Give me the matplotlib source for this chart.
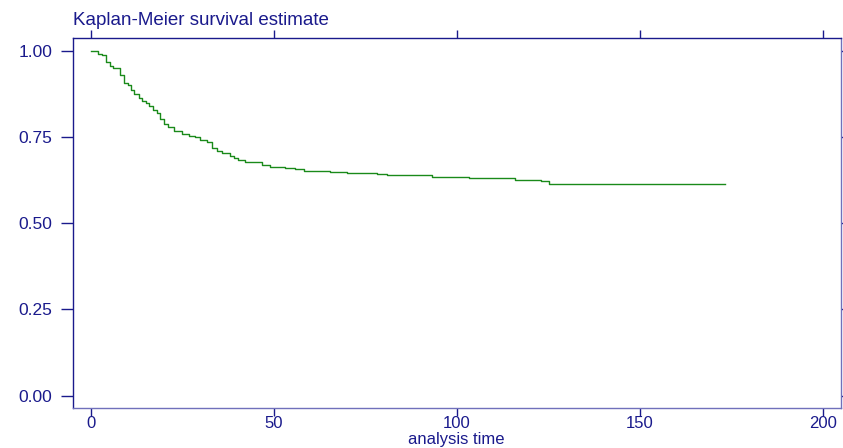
import matplotlib
matplotlib.use("Agg")
import matplotlib.pyplot as plt

# step times and survival values
times = [0, 1.9, 3.1, 4.0, 5.1, 6.0, 8.0, 8.9, 10.1, 11.0, 11.9, 13.1, 14.0,
         15.0, 16.0, 16.9, 18.0, 18.9, 20.0, 21.0, 22.8, 24.9, 26.7, 28.5,
         29.9, 31.7, 33.1, 34.4, 35.8, 38.1, 39.0, 40.1, 42.2, 46.7, 49.0,
         53.1, 55.8, 58.1, 65.4, 70.0, 78.2, 80.9, 93.2, 103.2, 116.0, 123.0,
         125.1, 173.4]
survival = [1.0, 0.990, 0.987, 0.968, 0.956, 0.949, 0.930, 0.905, 0.899,
            0.885, 0.873, 0.863, 0.854, 0.849, 0.839, 0.828, 0.818, 0.801,
            0.786, 0.780, 0.768, 0.758, 0.753, 0.749, 0.742, 0.734, 0.717,
            0.709, 0.703, 0.694, 0.688, 0.684, 0.677, 0.669, 0.664, 0.660,
            0.656, 0.652, 0.649, 0.645, 0.642, 0.639, 0.635, 0.631, 0.626,
            0.621, 0.614, 0.614]

xticks = [0, 50, 100, 150, 200]
yticks = [0.0, 0.25, 0.5, 0.75, 1.0]
ytick_labels = ["0.00", "0.25", "0.50", "0.75", "1.00"]

navy = "#1a1a8c"
light = "#7070bb"
green = "#1a8a1a"

plt.rcParams["font.family"] = ["Liberation Sans", "DejaVu Sans"]

fig = plt.figure(figsize=(8.43, 4.48), dpi=100)
ax = fig.add_axes([0.0862, 0.0893, 0.9114, 0.8252])

ax.step(times, survival, where="post", color=green, lw=1.0)

ax.set_xlim(-5, 205)
ax.set_ylim(-0.0356, 1.0356)

ax.set_xticks(xticks)
ax.set_yticks(yticks)
ax.set_yticklabels(ytick_labels)

ax.tick_params(axis="x", direction="out", length=5.5, width=1, color=navy,
               labelcolor=navy, labelsize=12, pad=0, top=True)
ax.tick_params(axis="y", direction="out", length=9, width=1, color=navy,
               labelcolor=navy, labelsize=12.5, pad=5.5, right=True)

ax.spines["left"].set_color(navy)
ax.spines["top"].set_color(navy)
ax.spines["bottom"].set_color(light)
ax.spines["right"].set_color(light)
for s in ax.spines.values():
    s.set_linewidth(1)

# axis title placed by hand, it sits tight under the tick labels
fig.text(0.5415, 0.009, "analysis time", color=navy, fontsize=12,
         ha="center", va="baseline")
fig.text(0.0865, 0.944, "Kaplan-Meier survival estimate", color=navy,
         fontsize=13.5, ha="left", va="baseline")

fig.savefig("out.png", dpi=100)
